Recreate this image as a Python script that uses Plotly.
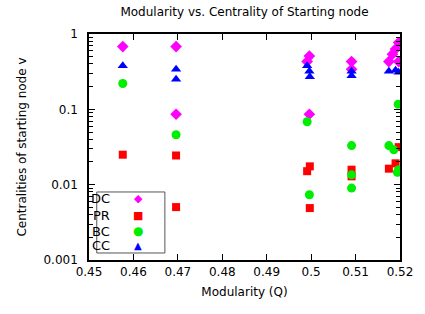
import plotly.graph_objects as go

# Data (Modularity Q, centrality value)
dc_x = [0.4576, 0.4696, 0.4696, 0.4996, 0.4991, 0.4996, 0.5091, 0.5091, 0.5175, 0.5183, 0.5190, 0.5197, 0.5197]
dc_y = [0.68, 0.68, 0.086, 0.51, 0.43, 0.086, 0.43, 0.34, 0.43, 0.54, 0.63, 0.77, 0.43]

pr_x = [0.4576, 0.4696, 0.4696, 0.4997, 0.4991, 0.4997, 0.5091, 0.5091, 0.5175, 0.5190, 0.5197, 0.5197]
pr_y = [0.025, 0.0244, 0.00504, 0.0175, 0.0151, 0.00489, 0.0158, 0.0129, 0.0163, 0.0192, 0.0315, 0.0157]

bc_x = [0.4576, 0.4696, 0.4991, 0.4996, 0.5091, 0.5091, 0.5091, 0.5175, 0.5186, 0.5196, 0.5194, 0.5197]
bc_y = [0.22, 0.046, 0.0685, 0.00736, 0.033, 0.0135, 0.009, 0.033, 0.029, 0.117, 0.0146, 0.0158]

cc_x = [0.4576, 0.4696, 0.4696, 0.4991, 0.4996, 0.4997, 0.5091, 0.5091, 0.5175, 0.5190, 0.5197]
cc_y = [0.378, 0.34, 0.25, 0.378, 0.32, 0.27, 0.32, 0.28, 0.32, 0.33, 0.31]

series_names = ["DC", "PR", "BC", "CC"]
x_ticks = [0.45, 0.46, 0.47, 0.48, 0.49, 0.5, 0.51, 0.52]

styles = {
    "DC": ("diamond", "#ff00ff", 9, "\u25C6", 11),
    "PR": ("square", "#ff0000", 8, "\u25A0", 11),
    "BC": ("circle", "#00ee00", 9, "\u25CF", 12),
    "CC": ("triangle-up", "#0000ff", 9, "\u25B2", 10),
}
data = {"DC": (dc_x, dc_y), "PR": (pr_x, pr_y), "BC": (bc_x, bc_y), "CC": (cc_x, cc_y)}

fig = go.Figure()
for name in series_names:
    xs, ys = data[name]
    sym, col, sz, _, _ = styles[name]
    fig.add_trace(go.Scatter(
        x=xs, y=ys, mode="markers", name=name,
        marker=dict(symbol=sym, color=col, size=sz, line=dict(width=0)),
    ))

# custom legend (text on the left, symbol on the right, as in the reference)
fig.add_shape(type="rect", xref="paper", yref="paper", x0=0.025, x1=0.244, y0=0.031, y1=0.301,
              line=dict(color="#555555", width=1), fillcolor="white", layer="above")
row_y = [0.270, 0.199, 0.128, 0.062]
for name, ry in zip(series_names, row_y):
    _, col, _, glyph, gsz = styles[name]
    fig.add_annotation(xref="paper", yref="paper", x=0.075, y=ry, text=name, showarrow=False,
                       xanchor="right", yanchor="middle", font=dict(size=13, color="black"))
    fig.add_annotation(xref="paper", yref="paper", x=0.159, y=ry, text=glyph, showarrow=False,
                       xanchor="center", yanchor="middle", font=dict(size=gsz, color=col))

font = "DejaVu Sans, sans-serif"
fig.update_layout(
    width=425, height=314,
    margin=dict(l=89, r=16, t=34, b=54),
    paper_bgcolor="white", plot_bgcolor="white",
    font=dict(family=font, size=12, color="black"),
    title=dict(text="Modularity vs. Centrality of Starting node", xref="paper", x=0.5,
               xanchor="center", y=1 - 12 / 314, yanchor="middle", font=dict(size=12)),
    showlegend=False,
)
fig.update_xaxes(
    range=[0.45, 0.52], tickvals=x_ticks, ticktext=[str(v) for v in x_ticks],
    showgrid=False, zeroline=False, showline=True, linecolor="black", linewidth=1.5,
    mirror="ticks", ticks="inside", ticklen=6, tickcolor="black", ticklabeloverflow="allow",
    title=dict(text="Modularity (Q)", standoff=9, font=dict(size=12)),
)
fig.update_yaxes(
    type="log", range=[-3, 0], tickmode="linear", tick0=0, dtick=1,
    showgrid=False, zeroline=False, showline=True, linecolor="black", linewidth=1.5,
    mirror="ticks", ticks="inside", ticklen=6, tickcolor="black", ticklabelstandoff=7,
    minor=dict(dtick="D1", ticks="inside", ticklen=4, tickwidth=1,
               tickcolor="black", showgrid=False),
    title=dict(text="Centralities of starting node v", standoff=14, font=dict(size=12)),
)
fig.write_html("out.html", config={"displayModeBar": False},
               post_script="document.body.style.margin='0';")
